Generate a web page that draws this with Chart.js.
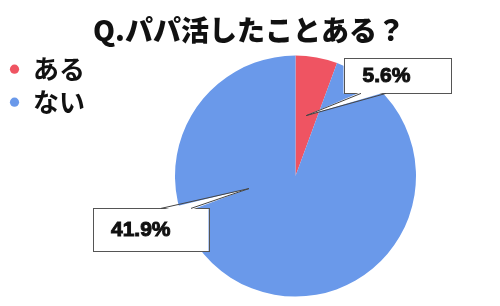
<!DOCTYPE html>
<html>
<head>
<meta charset="utf-8">
<script src="https://cdn.jsdelivr.net/npm/chart.js@4/dist/chart.umd.min.js"></script>
<style>
  html, body { margin: 0; padding: 0; background: #ffffff; }
  #wrap { width: 500px; height: 306px; position: relative; }
</style>
</head>
<body>
<div id="wrap"><canvas id="c" width="500" height="306"></canvas></div>
<script>
const titleText = 'Q.パパ活したことある？';
const categories = ['ある', 'ない'];
const values = [5.6, 94.4];
const calloutLabels = ['5.6%', '41.9%'];
const sliceColors = ['#EF5462', '#6A99EA'];

const calloutPlugin = {
  id: 'callouts',
  afterDatasetsDraw(chart, args, opts) {
    const meta = chart.getDatasetMeta(0);
    const ctx = chart.ctx;
    ctx.save();
    opts.items.forEach((it, i) => {
      const arc = meta.data[i];
      const p = arc.getProps(['x', 'y', 'startAngle', 'endAngle', 'outerRadius'], true);
      const a = p.startAngle + (p.endAngle - p.startAngle) * it.along;
      const tx = p.x + Math.cos(a) * p.outerRadius * it.depth;
      const ty = p.y + Math.sin(a) * p.outerRadius * it.depth;
      const bx = p.x + it.box[0], by = p.y + it.box[1], bw = it.box[2], bh = it.box[3];
      ctx.fillStyle = '#ffffff';
      ctx.strokeStyle = '#555555';
      ctx.lineWidth = 1;
      ctx.fillRect(bx, by, bw, bh);
      ctx.strokeRect(Math.round(bx) + 0.5, Math.round(by) + 0.5, Math.round(bw), Math.round(bh));
      const baseY = it.base[2] === 'bottom' ? by + bh : by;
      const inset = it.base[2] === 'bottom' ? -1.5 : 1.5;
      const b1x = p.x + it.base[0], b2x = p.x + it.base[1];
      ctx.beginPath();
      ctx.moveTo(tx, ty);
      ctx.lineTo(b1x, baseY + inset);
      ctx.lineTo(b2x, baseY + inset);
      ctx.closePath();
      ctx.fillStyle = '#ffffff';
      ctx.fill();
      ctx.beginPath();
      ctx.moveTo(b1x, baseY);
      ctx.lineTo(tx, ty);
      ctx.lineTo(b2x, baseY);
      ctx.strokeStyle = '#444444';
      ctx.lineWidth = 1;
      ctx.stroke();
      ctx.fillStyle = '#111111';
      ctx.strokeStyle = '#111111';
      ctx.lineWidth = 1;
      ctx.font = 'bold 21px "Liberation Sans", Arial, sans-serif';
      ctx.textAlign = 'left';
      ctx.textBaseline = 'middle';
      ctx.fillText(calloutLabels[i], bx + it.padLeft, by + bh / 2);
      ctx.strokeText(calloutLabels[i], bx + it.padLeft, by + bh / 2);
    });
    ctx.restore();
  }
};

new Chart(document.getElementById('c'), {
  type: 'pie',
  data: {
    labels: categories,
    datasets: [{
      data: values,
      backgroundColor: sliceColors,
      borderWidth: 0,
      radius: 120.5
    }]
  },
  options: {
    responsive: false,
    animation: false,
    layout: { padding: { left: 2, right: 4, top: 0, bottom: 3 } },
    plugins: {
      title: {
        display: true,
        fullSize: true,
        text: titleText,
        color: '#111111',
        font: { family: '"Noto Sans CJK JP", sans-serif', size: 28, weight: 900, lineHeight: 1.2 },
        padding: { top: 14, bottom: 1.6 }
      },
      legend: {
        display: true,
        fullSize: false,
        position: 'left',
        align: 'start',
        labels: {
          usePointStyle: true,
          pointStyle: 'circle',
          boxWidth: 11,
          boxHeight: 6.5,
          padding: 7,
          color: '#111111',
          font: { family: '"Noto Sans CJK JP", sans-serif', size: 26, weight: 'bold' }
        }
      },
      tooltip: { enabled: false },
      callouts: {
        items: [
          { along: 0.5, depth: 0.51, box: [48, -117.7, 106.5, 35], base: [65.5, 90.5, 'bottom'], padLeft: 19 },
          { along: 0.691, depth: 0.40, box: [-203, 32.3, 116, 43.4], base: [-134.5, -104.5, 'top'], padLeft: 18.5 }
        ]
      }
    }
  },
  plugins: [calloutPlugin]
});
</script>
</body>
</html>
